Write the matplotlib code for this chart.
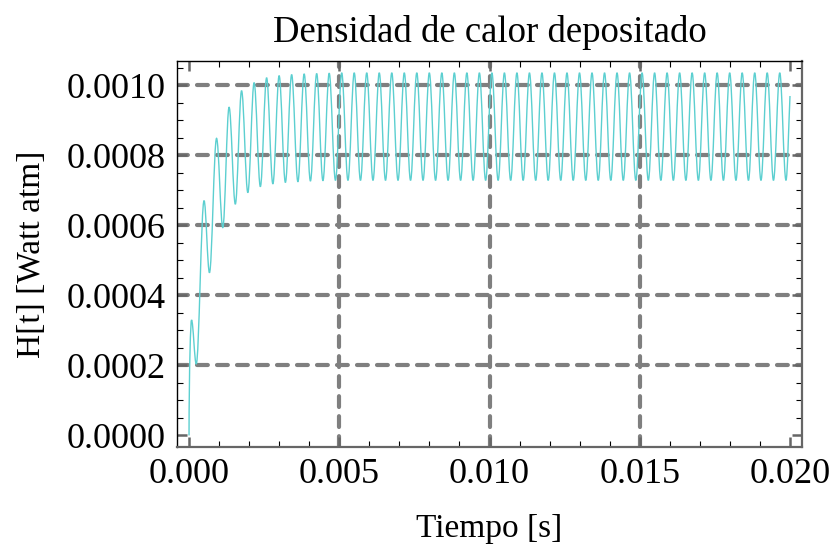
import numpy as np
import matplotlib
matplotlib.use('Agg')
import matplotlib.pyplot as plt
from matplotlib.path import Path
from matplotlib.patches import PathPatch
from matplotlib.ticker import FormatStrFormatter, MultipleLocator

# extremos (tiempos en ms, H en Watt/atm)
t_pico = [0.083, 0.500, 0.916, 1.333, 1.749, 2.166, 2.582, 2.999, 3.415, 3.832,
          4.248, 4.665, 5.081, 5.498, 5.914, 6.331, 6.747, 7.164, 7.580, 7.997,
          8.413, 8.830, 9.246, 9.663, 10.079, 10.496, 10.912, 11.329, 11.745, 12.162,
          12.578, 12.995, 13.411, 13.828, 14.244, 14.661, 15.077, 15.494, 15.910, 16.327,
          16.743, 17.160, 17.576, 17.993, 18.409, 18.826, 19.242, 19.659]
h_pico = [0.000330, 0.000671, 0.000849, 0.000938, 0.000985, 0.001008, 0.001022, 0.001028,
          0.001031, 0.001033, 0.001034, 0.001035, 0.001036, 0.001036, 0.001036, 0.001036,
          0.001036, 0.001036, 0.001036, 0.001036, 0.001036, 0.001036, 0.001036, 0.001036,
          0.001036, 0.001036, 0.001036, 0.001036, 0.001036, 0.001036, 0.001036, 0.001036,
          0.001036, 0.001036, 0.001036, 0.001036, 0.001036, 0.001036, 0.001036, 0.001036,
          0.001036, 0.001036, 0.001036, 0.001036, 0.001036, 0.001036, 0.001036, 0.001036]
t_valle = [0.240, 0.680, 1.124, 1.541, 1.957, 2.374, 2.790, 3.207, 3.623, 4.040,
           4.456, 4.873, 5.289, 5.706, 6.122, 6.539, 6.955, 7.372, 7.788, 8.205,
           8.621, 9.038, 9.454, 9.871, 10.287, 10.704, 11.120, 11.537, 11.953, 12.370,
           12.786, 13.203, 13.619, 14.036, 14.452, 14.869, 15.285, 15.702, 16.118, 16.535,
           16.951, 17.368, 17.784, 18.201, 18.617, 19.034, 19.450, 19.867]
h_valle = [0.000204, 0.000465, 0.000594, 0.000661, 0.000694, 0.000711, 0.000719, 0.000723,
           0.000725, 0.000727, 0.000728, 0.000729, 0.000729, 0.000729, 0.000729, 0.000729,
           0.000729, 0.000729, 0.000729, 0.000729, 0.000729, 0.000729, 0.000729, 0.000729,
           0.000729, 0.000729, 0.000729, 0.000729, 0.000729, 0.000729, 0.000729, 0.000729,
           0.000729, 0.000729, 0.000729, 0.000729, 0.000729, 0.000729, 0.000729, 0.000729,
           0.000729, 0.000729, 0.000729, 0.000729, 0.000729, 0.000729, 0.000729, 0.000729]
t_ini, h_ini = 0.0, 0.0
t_fin, h_fin = 20.0, 0.00097

xticks = [0.000, 0.005, 0.010, 0.015, 0.020]
yticks = [0.0000, 0.0002, 0.0004, 0.0006, 0.0008, 0.0010]

# secuencia ordenada de puntos
t = [t_ini]
h = [h_ini]
for a, b, c, d in zip(t_pico, h_pico, t_valle, h_valle):
    t += [a, c]
    h += [b, d]
t += [t_fin]
h += [h_fin]
t = np.array(t) * 1e-3
h = np.array(h)

# curva suave con beziers entre extremos
verts = [(t[0], h[0])]
codes = [Path.MOVETO]
k = 0.36
n = len(t)
for i in range(n - 1):
    t0, v0, t1, v1 = t[i], h[i], t[i + 1], h[i + 1]
    d = t1 - t0
    if i == 0:
        c1 = (t0 + 0.05 * d, v0 + 0.6 * (v1 - v0))
    else:
        c1 = (t0 + k * d, v0)
    if i == n - 2:
        c2 = (t1 - 0.3 * d, v1 - 0.3 * (v1 - v0))
    else:
        c2 = (t1 - k * d, v1)
    verts += [c1, c2, (t1, v1)]
    codes += [Path.CURVE4] * 3

plt.rcParams['font.family'] = ['Liberation Serif', 'DejaVu Serif']
fig = plt.figure(figsize=(8.33, 5.53), dpi=100)
ax = fig.add_axes([0.2125, 0.1917, 0.7503, 0.698])

for y in yticks[1:]:
    ax.axhline(y, color='#7f7f7f', lw=3.0, ls=(0, (2.6, 2.2)), dash_capstyle='round', zorder=1)
for x in xticks[1:-1]:
    ax.axvline(x, color='#7f7f7f', lw=3.0, ls=(0, (2.6, 2.2)), dash_capstyle='round', zorder=1)

ax.add_patch(PathPatch(Path(verts, codes), facecolor='none', edgecolor='#5ccfd0', lw=1.0, zorder=3))

ax.set_xlim(-0.0004, 0.0204)
ax.set_ylim(-0.000033, 0.00107)
ax.set_xticks(xticks)
ax.set_yticks(yticks)
ax.xaxis.set_major_formatter(FormatStrFormatter('%.3f'))
ax.yaxis.set_major_formatter(FormatStrFormatter('%.4f'))
ax.xaxis.set_minor_locator(MultipleLocator(0.001))
ax.yaxis.set_minor_locator(MultipleLocator(0.00005))
ax.tick_params(which='both', direction='in', top=True, right=True, labelsize=26, pad=8)
ax.tick_params(which='major', length=7, width=1.8, color='#666666')
ax.tick_params(which='minor', length=4, width=0.8, color='black')

for s in ['left', 'top']:
    ax.spines[s].set_color('black')
    ax.spines[s].set_linewidth(1.0)
for s in ['right', 'bottom']:
    ax.spines[s].set_color('#666666')
    ax.spines[s].set_linewidth(1.6)

ax.set_title('Densidad de calor depositado', fontsize=26.5, pad=14)
ax.set_xlabel('Tiempo [s]', fontsize=24, labelpad=16)
ax.set_ylabel('H[t] [Watt atm]', fontsize=24, labelpad=14)

fig.savefig('out.png', dpi=100)
